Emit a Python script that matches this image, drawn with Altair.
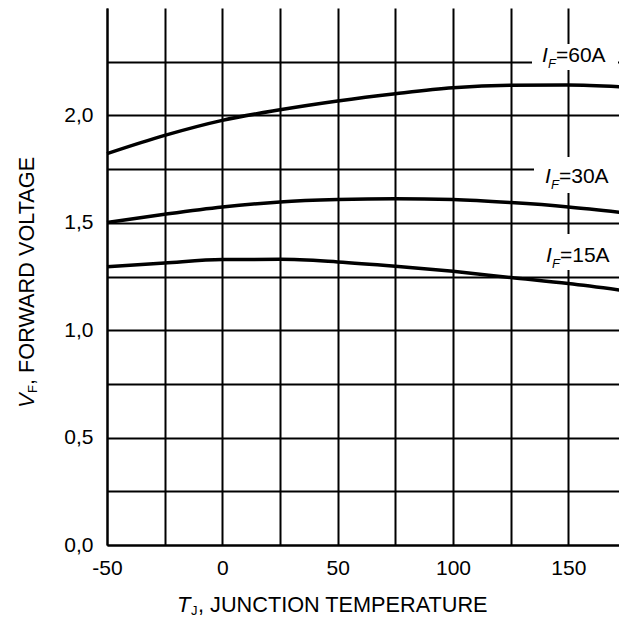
import altair as alt
import pandas as pd

# ---- data ----
temps = [-50, -25, 0, 25, 50, 75, 100, 125, 150, 175]
vf_60a = [1.822, 1.907, 1.977, 2.026, 2.067, 2.101, 2.129, 2.140, 2.141, 2.132]
vf_30a = [1.501, 1.540, 1.574, 1.597, 1.608, 1.612, 1.608, 1.594, 1.574, 1.546]
vf_15a = [1.295, 1.313, 1.329, 1.330, 1.318, 1.298, 1.274, 1.245, 1.217, 1.183]
series_names = ["60A", "30A", "15A"]
x_ticks = [-50, -25, 0, 25, 50, 75, 100, 125, 150, 175]
y_ticks = [0.0, 0.25, 0.5, 0.75, 1.0, 1.25, 1.5, 1.75, 2.0, 2.25]

rows = []
for name, vals in zip(series_names, [vf_60a, vf_30a, vf_15a]):
    for t, v in zip(temps, vals):
        rows.append({"T": t, "VF": v, "IF": name})
df = pd.DataFrame(rows)

FONT = "Liberation Sans"

x_enc = alt.X(
    "T:Q",
    scale=alt.Scale(domain=[-50, 175], nice=False, zero=False, range=[0, 519]),
    axis=alt.Axis(
        values=x_ticks, grid=True, gridColor="black", gridWidth=2, gridOpacity=1,
        domainColor="black", domainWidth=2, ticks=False,
        labelExpr="(datum.value % 50 == 0 && datum.value < 175) ? '' + datum.value : ''",
        labelFontSize=21, labelFont=FONT, labelColor="black", labelPadding=12,
        labelFlush=False, labelOverlap=False, title=None,
    ),
)
y_enc = alt.Y(
    "VF:Q",
    scale=alt.Scale(domain=[0, 2.5], nice=False, zero=True),
    axis=alt.Axis(
        values=y_ticks, grid=True, gridColor="black", gridWidth=2, gridOpacity=1,
        domainColor="black", domainWidth=2, ticks=False,
        labelExpr="((datum.value * 2) % 1 == 0) ? replace(format(datum.value, '.1f'), '.', ',') : ''",
        labelFontSize=21, labelFont=FONT, labelColor="black", labelPadding=14,
        labelFlush=False, labelOverlap=False, title=None,
    ),
)

lines = alt.Chart(df).mark_line(color="black", strokeWidth=3.5, interpolate="monotone").encode(
    x=x_enc, y=y_enc, detail="IF:N"
)

dummy = pd.DataFrame({"k": [0]})


def txt(s, x, y, size, italic=False, angle=0):
    kw = dict(text=s, font=FONT, fontSize=size, color="black", align="left", baseline="alphabetic")
    if italic:
        kw["fontStyle"] = "italic"
    if angle:
        kw["angle"] = angle
    return alt.Chart(dummy).mark_text(**kw).encode(x=alt.value(x), y=alt.value(y))


def box(x1, x2, y1, y2):
    return alt.Chart(dummy).mark_rect(color="white").encode(
        x=alt.value(x1), x2=alt.value(x2), y=alt.value(y1), y2=alt.value(y2)
    )


layers = [lines]
# white boxes behind curve labels
layers += [box(425, 511, 36, 62), box(427, 515, 149, 185), box(428, 513, 226, 262)]

# curve labels  I_F=..A
label_pos = [(435, 54), (438, 175), (439, 254)]
for name, (lx, ly) in zip(series_names, label_pos):
    layers.append(txt("I", lx, ly, 21, italic=True))
    layers.append(txt("F", lx + 6, ly + 6, 13, italic=True))
    layers.append(txt("=" + name, lx + 14, ly, 21))

# x title: T_J, JUNCTION TEMPERATURE
layers.append(txt("T", 70, 604, 22, italic=True))
layers.append(txt("J", 84, 607, 13))
layers.append(txt(", JUNCTION TEMPERATURE", 91, 604, 21.7))

# y title: V_F, FORWARD VOLTAGE (rotated)
layers.append(txt("V", -73, 400, 22, italic=True, angle=270))
layers.append(txt("F", -70, 385, 13, angle=270))
layers.append(txt(", FORWARD VOLTAGE", -73, 377, 21.7, angle=270))

chart = alt.layer(*layers).properties(
    width=512,
    height=537,
    autosize=alt.AutoSizeParams(type="none"),
    padding={"left": 99, "top": 0, "right": 0, "bottom": 72},
).configure_view(stroke="transparent")

chart.save("out.html", embed_options={"renderer": "svg", "actions": False})
